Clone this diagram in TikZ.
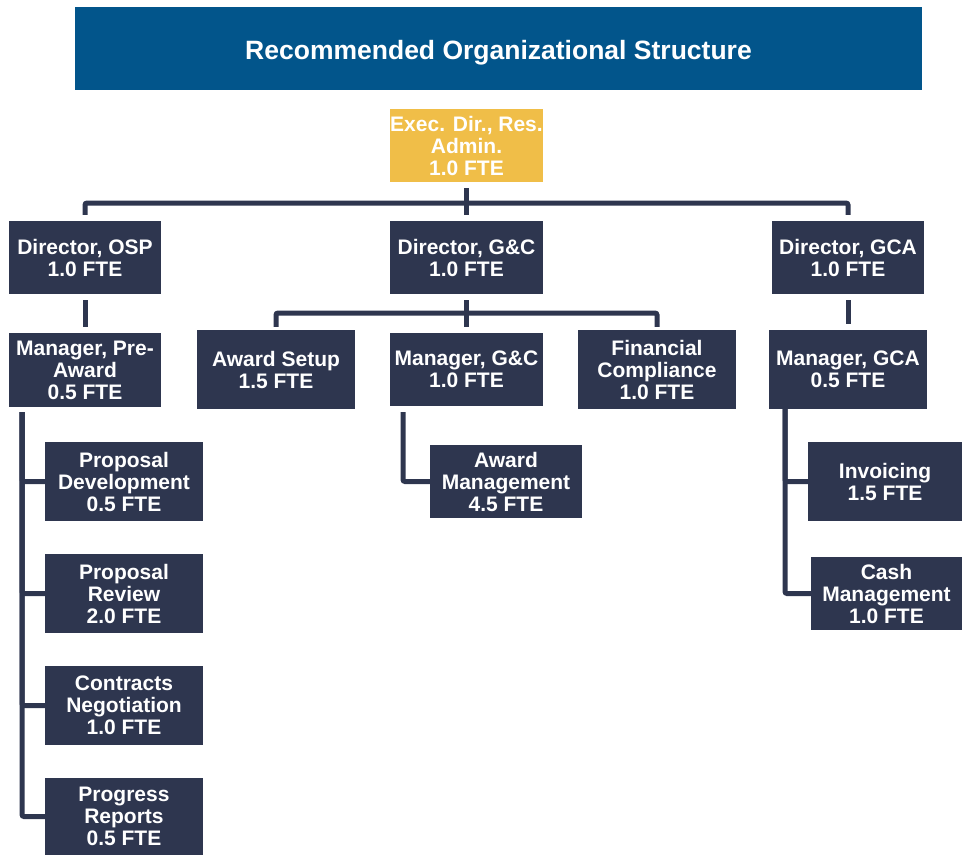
\documentclass[tikz,border=0pt]{standalone}
\usepackage{fontspec}
\setmainfont{Liberation Sans}
\begin{document}
\definecolor{navy}{RGB}{46,54,79}
\definecolor{titleblue}{RGB}{2,85,139}
\definecolor{gold}{RGB}{240,190,72}
\begin{tikzpicture}[x=1pt,y=-1pt,
  box/.style 2 args={rectangle, fill=navy, text=white, inner sep=0pt,
    minimum width=#1pt, minimum height=#2pt, align=center,
    font=\fontsize{21}{22}\selectfont\bfseries},
  link/.style={draw=navy, line width=5pt, rounded corners=2pt},
  gap/.style={shorten <=6pt, shorten >=6pt}]
\useasboundingbox (0,0) rectangle (962,855);

% title banner
\node[rectangle, fill=titleblue, minimum width=847pt, minimum height=83pt,
  inner sep=0pt] (title) at (498.5,48.5) {};
\node[text=white, inner sep=0pt, font=\fontsize{26.5}{28}\selectfont\bfseries,
  anchor=base] (titletext) at (498.5,59)
  {Recommended Organizational Structure};

% top level
\node[box={153}{73}, fill=gold] (exec) at (466.5,145.5) {Exec. Dir., Res.\\Admin.\\1.0 FTE};

% directors
\node[box={152}{73}] (osp) at (85,257.5) {Director, OSP\\1.0 FTE};
\node[box={153}{73}] (gc)  at (466.5,257.5) {Director, G\&C\\1.0 FTE};
\node[box={152}{73}] (gca) at (848,257.5) {Director, GCA\\1.0 FTE};

% managers and units
\node[box={152}{74}] (mpre)  at (85,370) {Manager, Pre-\\Award\\0.5 FTE};
\node[box={158}{79}] (setup) at (276,369.5) {Award Setup\\1.5 FTE};
\node[box={153}{73}] (mgc)   at (466.5,369.5) {Manager, G\&C\\1.0 FTE};
\node[box={158}{79}] (fin)   at (657,369.5) {Financial\\Compliance\\1.0 FTE};
\node[box={158}{79}] (mgca)  at (848,369.5) {Manager, GCA\\0.5 FTE};

% pre-award staff
\node[box={158}{79}] (dev)  at (124,481.5) {Proposal\\Development\\0.5 FTE};
\node[box={158}{79}] (rev)  at (124,593.5) {Proposal\\Review\\2.0 FTE};
\node[box={158}{79}] (neg)  at (124,705.5) {Contracts\\Negotiation\\1.0 FTE};
\node[box={158}{77}] (prog) at (124,816.5) {Progress\\Reports\\0.5 FTE};

% G&C staff
\node[box={152}{73}] (awm) at (506,481.5) {Award\\Management\\4.5 FTE};

% GCA staff
\node[box={154}{79}] (inv)  at (885,481.5) {Invoicing\\1.5 FTE};
\node[box={151}{73}] (cash) at (886.5,593.5) {Cash\\Management\\1.0 FTE};

% junction points
\coordinate (bar1) at (466.5,203);
\coordinate (bar2) at (466.5,313);
\coordinate (prespine) at (22,407);
\coordinate (gcspine) at (403,406);
\coordinate (gcaspine) at (785,409);

% connectors
\draw[link, gap] (exec.south) -- (gc.north);
\draw[link, gap] (osp.north) |- (bar1) -| (gca.north);
\draw[link, gap] (osp.south) -- (mpre.north);
\draw[link, gap] (gc.south) -- (mgc.north);
\draw[link, gap] (gca.south) -- (mgca.north);
\draw[link, shorten <=3pt, shorten >=3pt] (setup.north) |- (bar2) -| (fin.north);

\draw[link, shorten <=5pt] (prespine) |- (prog.west);
\draw[link, shorten <=5pt] (prespine) |- (neg.west);
\draw[link, shorten <=5pt] (prespine) |- (rev.west);
\draw[link, shorten <=5pt] (prespine) |- (dev.west);

\draw[link, shorten <=6pt] (gcspine) |- (awm.west);

\draw[link] (gcaspine) |- (cash.west);
\draw[link] (gcaspine) |- (inv.west);
\end{tikzpicture}
\end{document}
